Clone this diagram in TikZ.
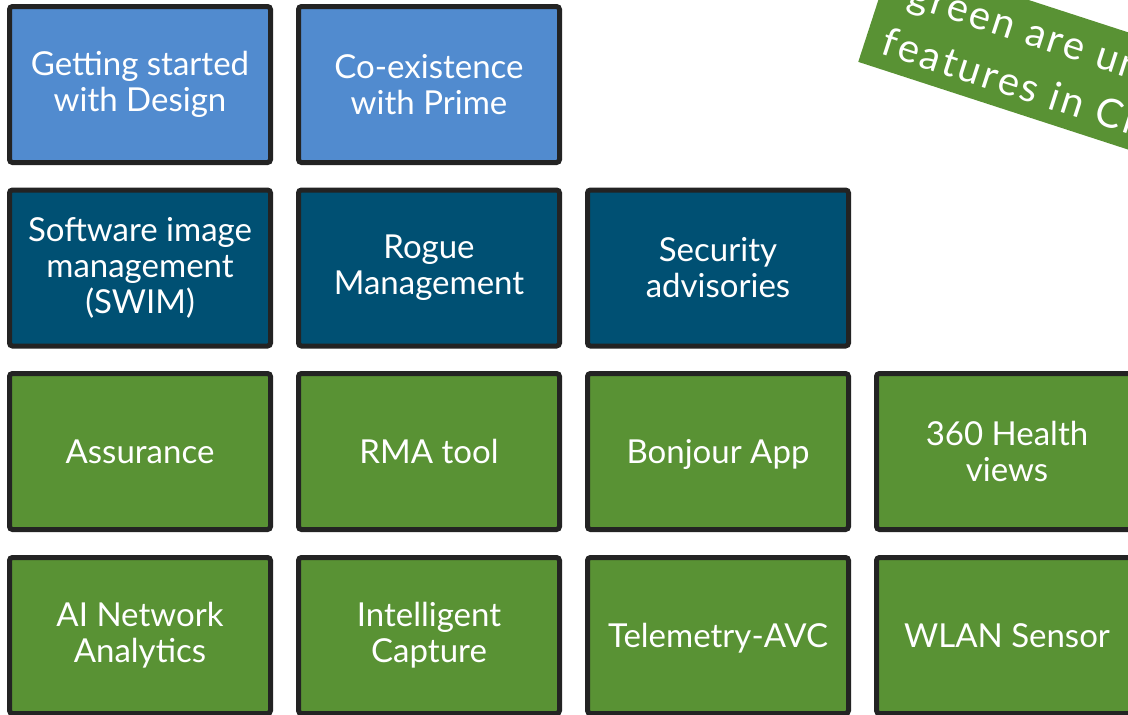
\documentclass[tikz,border=0pt]{standalone}
\usepackage{fontspec}
\setmainfont{Lato}
\newfontfamily\notefont[LetterSpace=7]{Lato}
\usepackage{tikz}
\usetikzlibrary{positioning}

\definecolor{cblue}{RGB}{81,139,207}
\definecolor{cteal}{RGB}{0,80,115}
\definecolor{cgreen}{RGB}{89,146,52}
\definecolor{cedge}{RGB}{35,35,35}

\begin{document}
\begin{tikzpicture}[x=1pt, y=-1pt]
  \tikzstyle{feat}=[draw=cedge, line width=5pt, rounded corners=3pt, text=white,
    minimum width=261pt, minimum height=156pt, align=center,
    font=\fontsize{33}{36}\selectfont]
  \tikzstyle{oneline}=[text depth=0pt]

  \useasboundingbox (0,0) rectangle (1128,715);
  \clip (0,0) rectangle (1128,715);

  \node[feat, fill=cblue] (A) at (140, 84.5) {Getting started\\with Design}; % Top row
  \node[feat, fill=cblue] (B) at (429, 84.5) {Co-existence\\with Prime};

  \node[feat, fill=cteal] (C) at (140, 268) {Software image\\management\\(SWIM)}; % Second row
  \node[feat, fill=cteal] (D) at (429, 268) {Rogue\\Management};
  \node[feat, fill=cteal] (E) at (718, 268) {Security\\advisories};

  \node[feat, oneline, fill=cgreen] (F) at (140, 451.5) {Assurance}; % Third row
  \node[feat, oneline, fill=cgreen] (G) at (429, 451.5) {RMA tool};
  \node[feat, oneline, fill=cgreen] (H) at (718, 451.5) {Bonjour App};
  \node[feat, fill=cgreen] (I) at (1007, 451.5) {360 Health\\views};

  \node[feat, fill=cgreen] (J) at (140, 635.5) {AI Network\\Analytics}; % Bottom row
  \node[feat, fill=cgreen] (K) at (429, 635.5) {Intelligent\\Capture};
  \node[feat, oneline, fill=cgreen] (L) at (718, 635.5) {Telemetry-AVC};
  \node[feat, oneline, fill=cgreen] (M) at (1007, 635.5) {WLAN Sensor};

  \node[fill=cgreen, text=white, rotate=-18, anchor=south west, align=left,
    inner xsep=18pt, inner ysep=14pt, font=\notefont\fontsize{40}{54}\selectfont]
    (N) at (858, 62) {\hspace{10pt}green are unique\\features in Cisco DNA Center}; % Rotated note
\end{tikzpicture}
\end{document}
